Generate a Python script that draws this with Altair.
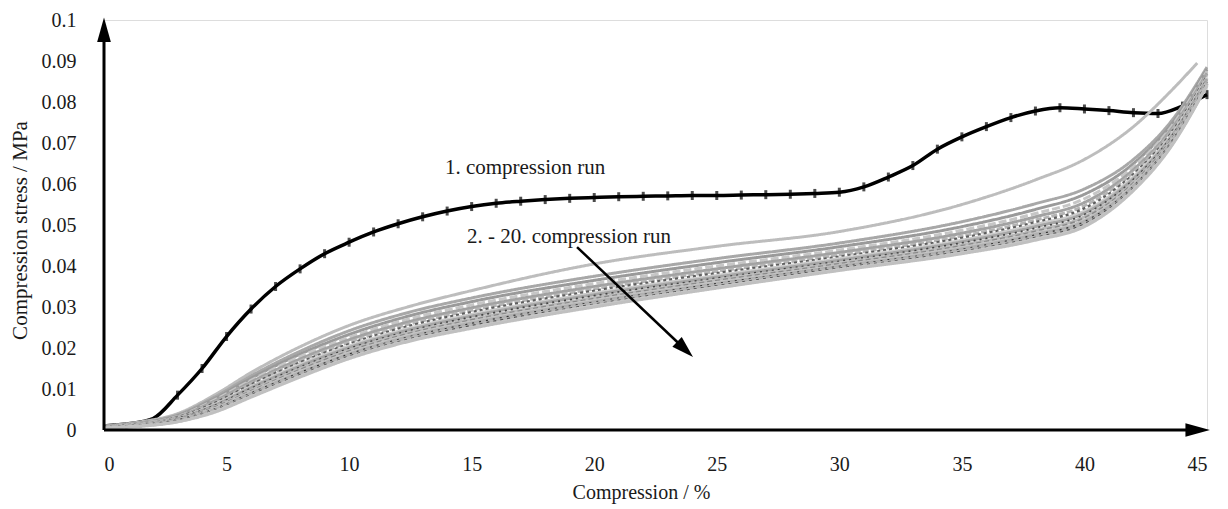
import altair as alt
import pandas as pd

# ---------------- data ----------------
# Compression in %, stress in kPa (converted to MPa below)
RUN1_X = list(range(0, 46))
RUN1_KPA = [1.0, 1.5, 2.8, 8.5, 15.0, 22.8, 29.5, 35.0, 39.3, 43.0,
            45.8, 48.3, 50.3, 52.0, 53.4, 54.5, 55.3, 55.8, 56.2, 56.5,
            56.7, 56.9, 57.0, 57.1, 57.2, 57.2, 57.3, 57.4, 57.5, 57.7,
            58.0, 59.3, 61.7, 64.5, 68.5, 71.5, 74.0, 76.2, 77.8, 78.6,
            78.3, 77.9, 77.4, 77.2, 79.0, 81.8]

GRAY_X = [0, 1.5, 3, 4.5, 6, 8, 10, 12.5, 15, 20, 25, 30, 35, 38, 40, 42, 43.5, 45]
RUN2_END_X = 44.6

GRAY_KPA = {
    "2":  [1.0, 2.0, 4.0, 8.5, 14.0, 20.3, 25.5, 30.2, 34.0, 40.5, 44.8, 48.4, 55.0, 61.0, 66.0, 74.0, 82.5, 89.5],
    "3":  [0.9, 1.8, 3.7, 8.0, 13.2, 19.2, 24.2, 28.8, 32.2, 37.5, 41.8, 45.6, 50.8, 55.2, 58.8, 66.0, 75.0, 88.5],
    "4":  [0.9, 1.7, 3.5, 7.6, 12.6, 18.5, 23.3, 27.9, 31.3, 36.5, 40.8, 44.7, 49.6, 53.8, 57.5, 65.0, 74.2, 88.0],
    "5":  [0.8, 1.6, 3.3, 7.3, 12.1, 17.9, 22.6, 27.2, 30.5, 35.7, 40.0, 43.9, 48.7, 52.8, 56.4, 64.2, 73.6, 87.5],
    "6":  [0.8, 1.5, 3.2, 7.0, 11.7, 17.3, 22.0, 26.5, 29.8, 35.0, 39.3, 43.3, 48.0, 52.0, 55.5, 63.5, 73.0, 87.0],
    "7":  [0.8, 1.5, 3.1, 6.7, 11.3, 16.8, 21.4, 25.9, 29.2, 34.4, 38.7, 42.7, 47.3, 51.2, 54.7, 62.9, 72.5, 86.6],
    "8":  [0.7, 1.4, 3.0, 6.5, 11.0, 16.4, 20.9, 25.4, 28.7, 33.9, 38.2, 42.2, 46.8, 50.6, 54.0, 62.3, 72.0, 86.2],
    "9":  [0.7, 1.4, 2.9, 6.2, 10.6, 16.0, 20.5, 24.9, 28.2, 33.4, 37.7, 41.8, 46.3, 50.1, 53.4, 61.8, 71.6, 85.9],
    "10": [0.7, 1.3, 2.8, 6.0, 10.3, 15.6, 20.1, 24.5, 27.8, 33.0, 37.3, 41.4, 45.9, 49.6, 52.9, 61.3, 71.2, 85.6],
    "11": [0.7, 1.3, 2.7, 5.8, 10.0, 15.2, 19.7, 24.1, 27.4, 32.6, 36.9, 41.0, 45.5, 49.1, 52.4, 60.9, 70.9, 85.3],
    "12": [0.6, 1.3, 2.6, 5.6, 9.7, 14.9, 19.4, 23.8, 27.0, 32.2, 36.6, 40.7, 45.1, 48.7, 52.0, 60.5, 70.6, 85.1],
    "13": [0.6, 1.2, 2.5, 5.4, 9.4, 14.6, 19.1, 23.5, 26.7, 31.9, 36.3, 40.4, 44.8, 48.3, 51.6, 60.1, 70.3, 84.9],
    "14": [0.6, 1.2, 2.4, 5.2, 9.2, 14.3, 18.8, 23.2, 26.4, 31.6, 36.0, 40.1, 44.5, 48.0, 51.2, 59.8, 70.0, 84.7],
    "15": [0.6, 1.2, 2.4, 5.0, 9.0, 14.0, 18.5, 22.9, 26.1, 31.3, 35.7, 39.9, 44.2, 47.7, 50.9, 59.5, 69.8, 84.5],
    "16": [0.5, 1.1, 2.3, 4.9, 8.8, 13.8, 18.3, 22.6, 25.8, 31.0, 35.5, 39.7, 43.9, 47.4, 50.6, 59.2, 69.6, 84.4],
    "17": [0.5, 1.1, 2.2, 4.8, 8.6, 13.5, 18.0, 22.4, 25.5, 30.8, 35.3, 39.5, 43.7, 47.1, 50.3, 59.0, 69.4, 84.3],
    "18": [0.5, 1.0, 2.1, 4.6, 8.4, 13.3, 17.8, 22.1, 25.3, 30.5, 35.0, 39.3, 43.4, 46.8, 50.1, 58.8, 69.2, 84.2],
    "19": [0.5, 1.0, 2.0, 4.5, 8.2, 13.1, 17.6, 21.9, 25.0, 30.3, 34.8, 39.1, 43.2, 46.6, 49.8, 58.6, 69.0, 84.1],
    "20": [0.5, 0.9, 2.0, 4.3, 8.0, 12.9, 17.4, 21.7, 24.8, 30.0, 34.6, 38.9, 43.0, 46.3, 49.6, 58.4, 68.8, 84.0],
}
GRAY_RUNS = list(GRAY_KPA.keys())
GRAY_COLORS = ["#bdbdbd", "#a8a8a8", "#9a9a9a", "#c6c6c6", "#a2a2a2", "#b4b4b4",
               "#5e5e5e", "#cccccc", "#a6a6a6", "#444444", "#bababa", "#8a8a8a",
               "#c4c4c4", "#b0b0b0", "#333333", "#b6b6b6", "#555555", "#c8c8c8",
               "#c0c0c0"]
GRAY_DASHES = [[1, 0], [1, 0], [1, 0], [8, 3], [1, 0], [6, 2], [3, 3], [1, 0],
               [1, 0], [2, 4], [1, 0], [5, 3], [1, 0], [1, 0], [2, 5], [1, 0],
               [3, 4], [1, 0], [1, 0]]

X_TICKS = [0, 5, 10, 15, 20, 25, 30, 35, 40, 45]
Y_TICKS = [0, 0.01, 0.02, 0.03, 0.04, 0.05, 0.06, 0.07, 0.08, 0.09, 0.1]

LABELS = ["1. compression run", "2. - 20. compression run"]
LABEL_X = [17.18, 18.97]
LABEL_Y = [0.0639, 0.0471]

# annotation arrow (start -> tip), axis arrow tips
NOTE_ARROW = {"x": 19.3, "y": 0.0446, "x2": 23.70, "y2": 0.0197}
NOTE_TIP = {"x": 24.03, "y": 0.0178, "angle": 133.5}
AXIS_LINES = {"x": [0, 0], "y": [0, 0], "x2": [44.63, 0], "y2": [0, 0.0977]}
AXIS_TIPS = {"x": [45.12, 0], "y": [0, 0.1006], "angle": [90, 0]}

FONT = "'Liberation Serif', 'Times New Roman', 'DejaVu Serif', serif"
TXT = "#1a1a1a"

# ---------------- tables ----------------
run1 = pd.DataFrame({"x": RUN1_X, "y": [v / 1000 for v in RUN1_KPA]})
rows = []
for run, vals in GRAY_KPA.items():
    xs = list(GRAY_X)
    if run == "2":
        xs[-1] = RUN2_END_X
    for xv, v in zip(xs, vals):
        rows.append({"run": run, "x": xv, "y": v / 1000})
gray = pd.DataFrame(rows)

xscale = alt.Scale(domain=[0, 45], nice=False, zero=False)
yscale = alt.Scale(domain=[0, 0.1], nice=False, zero=False)
xaxis = alt.Axis(values=X_TICKS, grid=False, ticks=False, tickSize=0, domain=False,
                 labelFont=FONT, labelFontSize=20, labelColor=TXT, labelPadding=24,
                 title="Compression / %", titleFont=FONT, titleFontSize=20,
                 titleFontWeight="normal", titleColor=TXT, titleX=537, titleY=62,
                 titleBaseline="middle", titleAlign="center")
yaxis = alt.Axis(values=Y_TICKS, format=".2~f", grid=False, ticks=False, tickSize=0,
                 domain=False, labelFont=FONT, labelFontSize=20, labelColor=TXT,
                 labelPadding=28, title="Compression stress / MPa", titleFont=FONT,
                 titleFontSize=21, titleFontWeight="normal", titleColor=TXT,
                 titleX=-84, titleY=210, titleAngle=270, titleBaseline="middle",
                 titleAlign="center")


def X(field="x"):
    return alt.X(f"{field}:Q", scale=xscale, axis=xaxis)


def Y(field="y"):
    return alt.Y(f"{field}:Q", scale=yscale, axis=yaxis)


black_line = alt.Chart(run1).mark_line(color="#000000", strokeWidth=3.5,
                                       interpolate="monotone").encode(x=X(), y=Y())
black_ticks = alt.Chart(run1[run1["x"] >= 3]).mark_tick(
    color="#000000", orient="vertical", size=9, thickness=3).encode(x=X(), y=Y())

gray_lines = alt.Chart(gray).mark_line(strokeWidth=3, interpolate="monotone").encode(
    x=X(), y=Y(),
    color=alt.Color("run:N", scale=alt.Scale(domain=GRAY_RUNS, range=GRAY_COLORS), legend=None),
    strokeDash=alt.StrokeDash("run:N", scale=alt.Scale(domain=GRAY_RUNS, range=GRAY_DASHES),
                              legend=None),
    order=alt.Order("x:Q"),
)

axis_df = pd.DataFrame(AXIS_LINES)
axis_lines = alt.Chart(axis_df).mark_rule(color="#000000", strokeWidth=3).encode(
    x=X(), y=Y(), x2="x2:Q", y2="y2:Q")
tips_df = pd.DataFrame(AXIS_TIPS)
axis_tips = alt.Chart(tips_df).mark_point(
    shape="M0,0 L0.56,2 L-0.56,2 Z", size=600, filled=True, color="#000000",
    opacity=1, strokeWidth=0).encode(x=X(), y=Y(), angle=alt.Angle("angle:Q", scale=None))

note_df = pd.DataFrame([NOTE_ARROW])
note_line = alt.Chart(note_df).mark_rule(color="#000000", strokeWidth=2.5).encode(
    x=X(), y=Y(), x2="x2:Q", y2="y2:Q")
note_tip_df = pd.DataFrame([NOTE_TIP])
note_tip = alt.Chart(note_tip_df).mark_point(
    shape="M0,0 L0.62,2 L-0.62,2 Z", size=484, filled=True, color="#000000",
    opacity=1, strokeWidth=0).encode(x=X(), y=Y(), angle=alt.Angle("angle:Q", scale=None))

labels_df = pd.DataFrame({"label": LABELS, "x": LABEL_X, "y": LABEL_Y})
labels = alt.Chart(labels_df).mark_text(font=FONT, fontSize=21, color=TXT,
                                        align="center", baseline="middle").encode(
    x=X(), y=Y(), text="label:N")

chart = alt.layer(
    black_line, black_ticks, gray_lines, axis_lines, axis_tips, note_line, note_tip, labels
).properties(
    width=1103, height=410,
    autosize=alt.AutoSizeParams(type="none"),
    padding={"left": 96, "top": 12, "right": 12, "bottom": 74},
).configure_view(stroke=None).configure(background="#ffffff", font=FONT)

chart.save("out.html", embed_options={"renderer": "svg", "actions": False})
